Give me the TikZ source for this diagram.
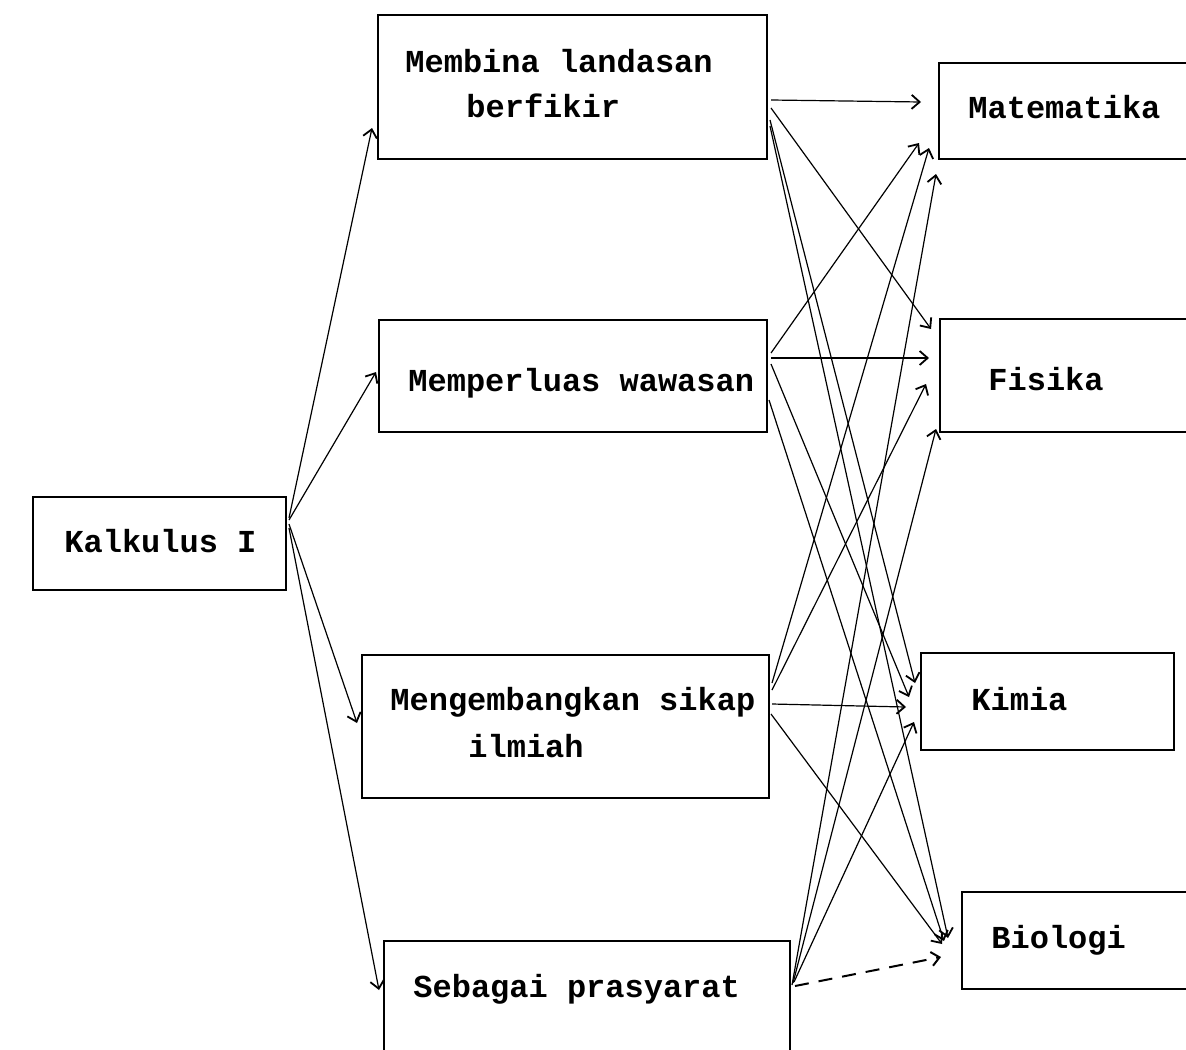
\documentclass[tikz,border=0pt]{standalone}
\usepackage{fontspec}
\setmonofont{Liberation Mono}
\usetikzlibrary{arrows.meta,calc}
\begin{document}
\begin{tikzpicture}[x=0.5pt,y=-0.5pt,
  box/.style={draw,line width=1.4pt,inner sep=0pt,outer sep=0pt},
  lbl/.style={font=\ttfamily\bfseries\fontsize{16}{19}\selectfont,anchor=base west,inner sep=0pt},
  conn/.style={line width=0.6pt,-{Straight Barb[length=4pt,width=7pt,line width=0.9pt]}},
  dconn/.style={line width=1pt,dash pattern=on 7pt off 5pt,-{Straight Barb[length=4pt,width=7pt,line width=1pt]}}]
\useasboundingbox (0,0) rectangle (1186,1049);
\fill[white] (0,0) rectangle (1186,1049);
\clip (0,0) rectangle (1186,1049);

% boxes
\node[box,minimum width=126.5pt,minimum height=46.5pt] (k)   at (159.5,543.5) {};
\node[box,minimum width=194.5pt,minimum height=72pt]   (m1)  at (572.5,87) {};
\node[box,minimum width=194pt,minimum height=56pt]     (m2)  at (573,376) {};
\node[box,minimum width=203.5pt,minimum height=71.5pt] (m3)  at (565.5,726.5) {};
\node[box,minimum width=203pt,minimum height=79pt]     (m4)  at (587,1020) {};
\node[box,minimum width=145.5pt,minimum height=48pt]   (mat) at (1084.5,111) {};
\node[box,minimum width=145pt,minimum height=56.5pt]   (fis) at (1085,375.5) {};
\node[box,minimum width=126.5pt,minimum height=48.5pt] (kim) at (1047.5,701.5) {};
\node[box,minimum width=134pt,minimum height=48.5pt]   (bio) at (1096,940.5) {};

% texts
\node[lbl] (tk)  at (64,552)  {Kalkulus I};
\node[lbl] (t1a) at (405,72)  {Membina landasan};
\node[lbl] (t1b) at (466,117) {berfikir};
\node[lbl] (t2)  at (408,391) {Memperluas wawasan};
\node[lbl] (t3a) at (390,710) {Mengembangkan sikap};
\node[lbl] (t3b) at (468,757) {ilmiah};
\node[lbl] (t4)  at (413,997) {Sebagai prasyarat};
\node[lbl] (tm)  at (968,118) {Matematika};
\node[lbl] (tf)  at (988,390) {Fisika};
\node[lbl] (tki) at (971,710) {Kimia};
\node[lbl] (tb)  at (991,948) {Biologi};

% connector end points
\coordinate (k1) at ($(k.north east)+(3,21)$);
\coordinate (k2) at ($(k.north east)+(3,23)$);
\coordinate (k3) at ($(k.north east)+(3,27)$);
\coordinate (k4) at ($(k.north east)+(3,31)$);
\coordinate (m1in) at ($(m1.north west)+(-6,113)$);
\coordinate (m2in) at ($(m2.north west)+(-3,52)$);
\coordinate (m3in) at ($(m3.north west)+(-5,68)$);
\coordinate (m4in) at ($(m4.north west)+(-5,49)$);

\coordinate (a1) at ($(m1.north east)+(4,85)$);
\coordinate (a2) at ($(m1.north east)+(4,93)$);
\coordinate (a3) at ($(m1.north east)+(3,105)$);
\coordinate (a4) at ($(m1.north east)+(3,111)$);
\coordinate (b1) at ($(m2.north east)+(4,33)$);
\coordinate (b2) at ($(m2.north east)+(4,38)$);
\coordinate (b3) at ($(m2.north east)+(4,44)$);
\coordinate (b4) at ($(m2.north east)+(2,80)$);
\coordinate (c1) at ($(m3.north east)+(3,28)$);
\coordinate (c2) at ($(m3.north east)+(3,35)$);
\coordinate (c3) at ($(m3.north east)+(3,49)$);
\coordinate (c4) at ($(m3.north east)+(2,59)$);
\coordinate (d1) at ($(m4.north east)+(2,44)$);
\coordinate (d2) at ($(m4.north east)+(3,42)$);
\coordinate (d3) at ($(m4.north east)+(4,41)$);
\coordinate (d4) at ($(m4.north east)+(5,45)$);

\coordinate (mat1) at ($(mat.north west)+(-18,39)$);
\coordinate (mat2) at ($(mat.north west)+(-20,80)$);
\coordinate (mat3) at ($(mat.north west)+(-10,85)$);
\coordinate (mat4) at ($(mat.north west)+(-3,111)$);
\coordinate (fis1) at ($(fis.north west)+(-9,10)$);
\coordinate (fis2) at ($(fis.north west)+(-11,39)$);
\coordinate (fis3) at ($(fis.north west)+(-14,65)$);
\coordinate (fis4) at ($(fis.north west)+(-4,110)$);
\coordinate (kim1) at ($(kim.north west)+(-6,30)$);
\coordinate (kim2) at ($(kim.north west)+(-12,44)$);
\coordinate (kim3) at ($(kim.north west)+(-15,54)$);
\coordinate (kim4) at ($(kim.north west)+(-7,69)$);
\coordinate (bio1) at ($(bio.north west)+(-14,46)$);
\coordinate (bio2) at ($(bio.north west)+(-18,49)$);
\coordinate (bio3) at ($(bio.north west)+(-20,52)$);
\coordinate (bio4) at ($(bio.north west)+(-21,65)$);

% Kalkulus -> middle
\draw[conn] (k1) -- (m1in);
\draw[conn] (k2) -- (m2in);
\draw[conn] (k3) -- (m3in);
\draw[conn] (k4) -- (m4in);

% middle -> right
\draw[conn] (a1) -- (mat1);
\draw[conn] (a2) -- (fis1);
\draw[conn] (a3) -- (kim1);
\draw[conn] (a4) -- (bio1);
\draw[conn] (b1) -- (mat2);
\draw[conn] (b2) -- (fis2);
\draw[conn] (b3) -- (kim2);
\draw[conn] (b4) -- (bio2);
\draw[conn] (c1) -- (mat3);
\draw[conn] (c2) -- (fis3);
\draw[conn] (c3) -- (kim3);
\draw[conn] (c4) -- (bio3);
\draw[conn] (d1) -- (mat4);
\draw[conn] (d2) -- (fis4);
\draw[conn] (d3) -- (kim4);
\draw[dconn] (d4) -- (bio4);
\end{tikzpicture}
\end{document}
